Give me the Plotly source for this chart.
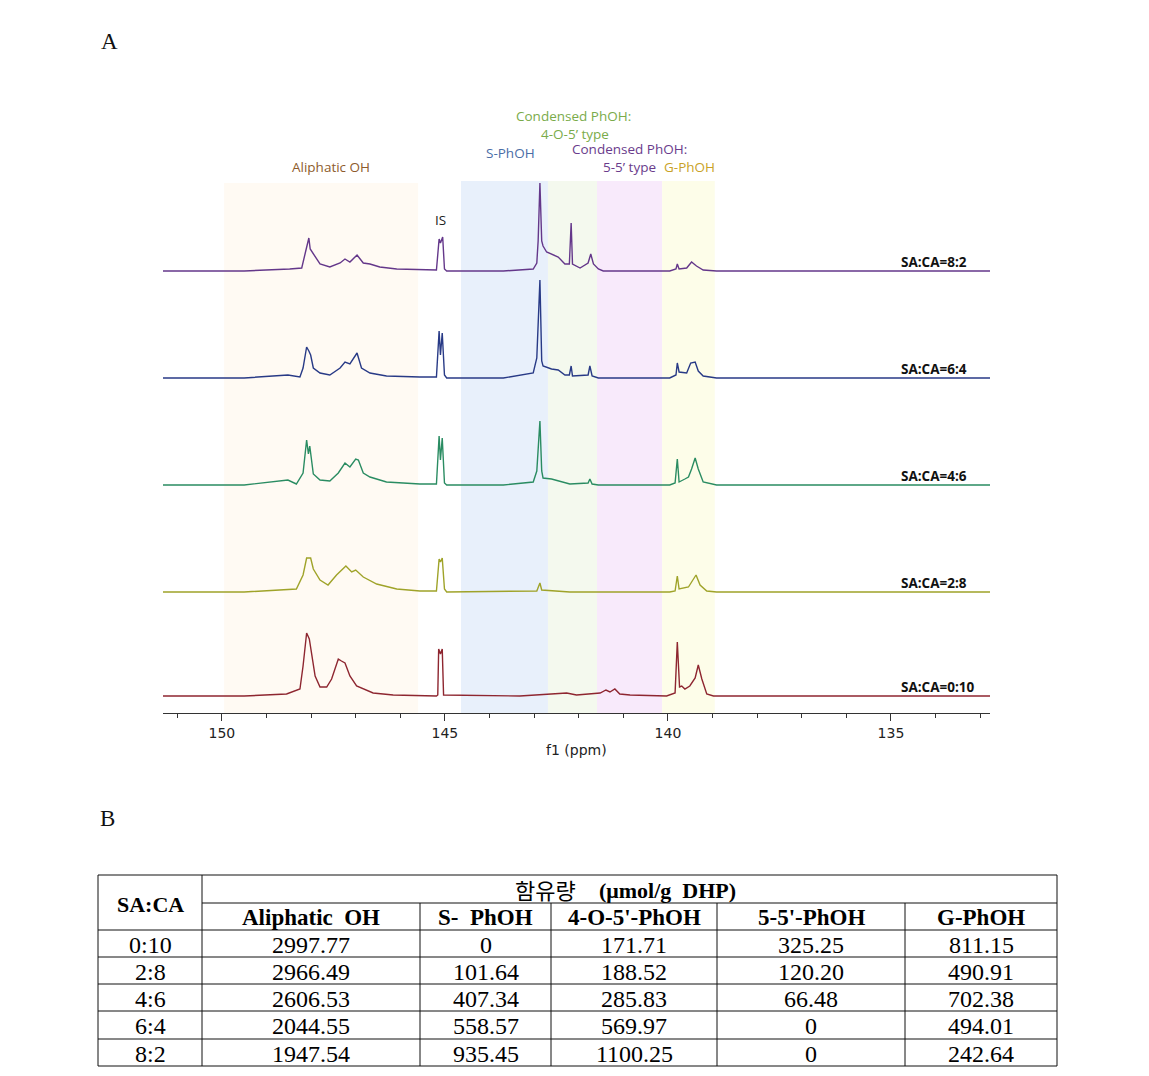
import plotly.graph_objects as go

W, H = 1149, 1076

# ---------------- Spectra data (ppm, intensity above own baseline) ----------------
names = ["SA:CA=8:2", "SA:CA=6:4", "SA:CA=4:6", "SA:CA=2:8", "SA:CA=0:10"]

ppm_82 = [151.32, 149.5, 148.48, 148.21, 148.12, 148.05, 148.02, 147.95, 147.80, 147.58,
          147.35, 147.24, 147.13, 146.97, 146.83, 146.68, 146.46, 146.08, 145.56, 145.19,
          145.13, 145.10, 145.05, 145.01, 144.96, 143.69, 143.02, 142.94, 142.91, 142.87,
          142.83, 142.80, 142.72, 142.61, 142.46, 142.31, 142.21, 142.17, 142.14, 141.97,
          141.79, 141.73, 141.67, 141.56, 141.45, 139.96, 139.82, 139.79, 139.75, 139.58,
          139.47, 139.36, 139.21, 138.91, 132.78]
int_82 = [0, 0, 2, 3, 20, 33, 22, 17, 7, 4,
          8, 12, 9, 16, 8, 7, 4, 2, 1, 1,
          32, 28, 34, 2, 0, 0, 2, 8, 30, 88,
          30, 25, 19, 17, 14, 7, 7, 48, 7, 3,
          8, 17, 7, 2, 0, 0, 2, 7, 2, 3,
          9, 5, 1, 0, 0]

ppm_64 = [151.32, 149.5, 148.52, 148.25, 148.18, 148.10, 148.05, 148.01, 147.95, 147.80,
          147.58, 147.35, 147.24, 147.13, 146.97, 146.87, 146.68, 146.31, 145.56, 145.19,
          145.13, 145.10, 145.06, 145.01, 144.96, 143.69, 143.02, 142.94, 142.87, 142.83,
          142.80, 142.61, 142.46, 142.31, 142.21, 142.17, 142.14, 141.79, 141.75, 141.70,
          141.56, 139.96, 139.82, 139.79, 139.75, 139.58, 139.49, 139.39, 139.32, 139.21,
          138.91, 132.78]
int_64 = [0, 0, 3, 1, 10, 31, 27, 23, 10, 5,
          3, 10, 16, 14, 25, 10, 5, 2, 1, 1,
          47, 23, 45, 3, 0, 0, 5, 20, 98, 17,
          12, 9, 8, 3, 3, 12, 2, 3, 12, 2,
          0, 0, 3, 15, 6, 5, 15, 16, 7, 2,
          0, 0]

ppm_46 = [151.32, 149.5, 148.52, 148.33, 148.18, 148.10, 148.06, 148.03, 147.95, 147.80,
          147.58, 147.39, 147.24, 147.13, 147.00, 146.94, 146.83, 146.68, 146.31, 145.56,
          145.19, 145.13, 145.10, 145.06, 145.01, 144.96, 143.69, 143.02, 142.94, 142.87,
          142.83, 142.80, 142.61, 142.42, 142.20, 141.79, 141.75, 141.70, 141.56, 139.96,
          139.84, 139.79, 139.75, 139.62, 139.54, 139.47, 139.39, 139.32, 139.21, 138.91,
          132.78]
int_46 = [0, 0, 5, 1, 12, 45, 31, 39, 11, 5,
          4, 12, 22, 18, 26, 25, 12, 8, 3, 1,
          1, 49, 25, 47, 2, 0, 0, 3, 14, 64,
          14, 7, 6, 4, 1, 2, 6, 1, 0, 0,
          2, 26, 3, 6, 8, 16, 27, 16, 3, 0,
          0]

ppm_28 = [151.32, 149.5, 148.33, 148.18, 148.10, 148.01, 147.95, 147.80, 147.62, 147.43,
          147.22, 147.09, 147.00, 146.83, 146.53, 146.08, 145.56, 145.19, 145.13, 145.10,
          145.06, 145.01, 144.96, 142.94, 142.87, 142.83, 142.20, 139.96, 139.84, 139.79,
          139.75, 139.54, 139.37, 139.28, 139.13, 138.91, 132.78]
int_28 = [0, 0, 3, 17, 34, 34, 23, 12, 7, 17,
          26, 20, 22, 15, 8, 3, 1, 1, 33, 30,
          34, 3, 0, 1, 9, 2, 0, 0, 1, 16,
          3, 5, 17, 7, 1, 0, 0]

ppm_010 = [151.32, 149.5, 148.55, 148.25, 148.18, 148.10, 148.04, 147.99, 147.91, 147.80,
           147.65, 147.54, 147.39, 147.32, 147.24, 147.13, 146.98, 146.61, 146.16, 145.19,
           145.16, 145.14, 145.10, 145.06, 145.03, 143.32, 142.27, 142.05, 141.52, 141.39,
           141.30, 141.19, 141.08, 140.85, 140.03, 139.84, 139.79, 139.74, 139.69, 139.62,
           139.51, 139.39, 139.32, 139.24, 139.13, 138.98, 132.78]
int_010 = [0, 0, 2, 7, 30, 63, 57, 43, 20, 9,
           9, 17, 37, 35, 33, 20, 10, 3, 1, 0,
           1, 47, 42, 47, 1, 0, 3, 1, 3, 6,
           4, 7, 2, 1, 0, 3, 54, 9, 10, 7,
           10, 18, 31, 17, 2, 0, 0]

spectra_ppm = [ppm_82, ppm_64, ppm_46, ppm_28, ppm_010]
spectra_int = [int_82, int_64, int_46, int_28, int_010]

# ---------------- Assignment regions (ppm) ----------------
region_names = ["Aliphatic OH", "S-PhOH", "4-O-5' type", "5-5' type", "G-PhOH"]
region_lo = [145.60, 142.69, 141.59, 140.13, 138.95]
region_hi = [149.95, 144.64, 142.69, 141.59, 140.13]

# ---------------- Table data ----------------
ratios = ["0:10", "2:8", "4:6", "6:4", "8:2"]
aliphatic_oh = [2997.77, 2966.49, 2606.53, 2044.55, 1947.54]
s_phoh = [0, 101.64, 407.34, 558.57, 935.45]
c_4o5_phoh = [171.71, 188.52, 285.83, 569.97, 1100.25]
c_55_phoh = [325.25, 120.20, 66.48, 0, 0]
g_phoh = [811.15, 490.91, 702.38, 494.01, 242.64]
col_headers = ["Aliphatic\u00a0 OH", "S-\u00a0 PhOH", "4-O-5'-PhOH", "5-5'-PhOH", "G-PhOH"]

# ---------------- styles / layout helpers ----------------
line_colors = ["#64378a", "#283a86", "#2a8c62", "#9fa329", "#8e2630"]
region_fill = ["#fffaf3", "#e8f0fb", "#f4f9ee", "#f8eafb", "#fdfde9"]
stack_offset = [442, 335, 228, 121, 17]   # baseline heights (px above axis)


def px(x):
    return x / W


def py(y):
    return 1 - y / H


fig = go.Figure()

for nm, xs, ys, off, col in zip(names, spectra_ppm, spectra_int, stack_offset, line_colors):
    fig.add_trace(go.Scatter(
        x=xs, y=[off + v for v in ys], mode="lines", name=nm,
        line=dict(color=col, width=1.4), hoverinfo="skip", showlegend=False))

shapes = []
tops = [530, 532, 532, 532, 532]
for lo, hi, fc, tp in zip(region_lo, region_hi, region_fill, tops):
    shapes.append(dict(type="rect", xref="x", yref="y", x0=hi, x1=lo, y0=0, y1=tp,
                       fillcolor=fc, line=dict(width=0), layer="below"))

annotations = []
# spectrum labels
for nm, off in zip(names, stack_offset):
    annotations.append(dict(text="<b>" + nm + "</b>", xref="paper", yref="y",
                            x=px(899), y=off + 9, xanchor="left", yanchor="middle",
                            showarrow=False, font=dict(family="Open Sans", size=13.5, color="#111")))

lab_font = "Open Sans"
region_labels = [
    ("Aliphatic OH", 331, 167, "#8d5b2c"),
    ("IS", 440, 220, "#222222"),
    ("S-PhOH", 510, 153, "#4a6da6"),
    ("Condensed PhOH:", 573, 116, "#7aab4a"),
    ("4-O-5\u2019 type", 575, 134, "#7aab4a"),
    ("Condensed PhOH:", 629, 149, "#6a3c8c"),
    ("5-5\u2019 type", 629, 167, "#6a3c8c"),
    ("G-PhOH", 689, 167, "#c9a227"),
]
for t, x, y, c in region_labels:
    annotations.append(dict(text=t, xref="paper", yref="paper", x=px(x), y=py(y),
                            xanchor="center", yanchor="middle", showarrow=False,
                            font=dict(family=lab_font, size=13.5, color=c)))

annotations.append(dict(text="f1 (ppm)", xref="paper", yref="paper", x=px(576), y=py(750),
                        xanchor="center", yanchor="middle", showarrow=False,
                        font=dict(family="DejaVu Sans", size=14, color="#222")))

# panel letters
for t, x, y in [("A", 109, 42), ("B", 107, 818)]:
    annotations.append(dict(text=t, xref="paper", yref="paper", x=px(x), y=py(y),
                            xanchor="center", yanchor="middle", showarrow=False,
                            font=dict(family="Liberation Serif", size=23, color="#111")))

# ---------------- table ----------------
tl, tr, ttop, tbot = 98, 1057, 875, 1066
col_x = [98, 202, 420, 551, 717, 905, 1057]
row_y = [930, 957, 984, 1011, 1039, 1066]
tline = dict(color="#111", width=1)

shapes.append(dict(type="rect", xref="paper", yref="paper", x0=px(tl), x1=px(tr),
                   y0=py(tbot), y1=py(ttop), line=tline))
shapes.append(dict(type="line", xref="paper", yref="paper", x0=px(202), x1=px(tr),
                   y0=py(903), y1=py(903), line=tline))
for yy in row_y[:-1]:
    shapes.append(dict(type="line", xref="paper", yref="paper", x0=px(tl), x1=px(tr),
                       y0=py(yy), y1=py(yy), line=tline))
shapes.append(dict(type="line", xref="paper", yref="paper", x0=px(202), x1=px(202),
                   y0=py(ttop), y1=py(tbot), line=tline))
for xx in col_x[2:-1]:
    shapes.append(dict(type="line", xref="paper", yref="paper", x0=px(xx), x1=px(xx),
                       y0=py(903), y1=py(tbot), line=tline))

serif = "Liberation Serif"
annotations.append(dict(text="<b>SA:CA</b>", xref="paper", yref="paper", x=px(150), y=py(904),
                        xanchor="center", yanchor="middle", showarrow=False,
                        font=dict(family=serif, size=22, color="#000")))
annotations.append(dict(text="함유량", xref="paper", yref="paper", x=px(545), y=py(889),
                        xanchor="center", yanchor="middle", showarrow=False,
                        font=dict(family="Noto Sans CJK KR", size=22, color="#000")))
annotations.append(dict(text="<b>(μmol/g\u00a0 DHP)</b>", xref="paper", yref="paper", x=px(597), y=py(890),
                        xanchor="left", yanchor="middle", showarrow=False,
                        font=dict(family=serif, size=22, color="#000")))

centers = [(col_x[i] + col_x[i + 1]) / 2 for i in range(len(col_x) - 1)]
for h, cx in zip(col_headers, centers[1:]):
    annotations.append(dict(text="<b>" + h + "</b>", xref="paper", yref="paper", x=px(cx), y=py(917),
                            xanchor="center", yanchor="middle", showarrow=False,
                            font=dict(family=serif, size=23, color="#000")))


def fmt(v):
    return "0" if v == 0 else f"{v:.2f}"


columns = [ratios, [fmt(v) for v in aliphatic_oh], [fmt(v) for v in s_phoh],
           [fmt(v) for v in c_4o5_phoh], [fmt(v) for v in c_55_phoh], [fmt(v) for v in g_phoh]]
for ci, col in enumerate(columns):
    for ri, val in enumerate(col):
        cy = (row_y[ri] + row_y[ri + 1]) / 2 + 1
        annotations.append(dict(text=val, xref="paper", yref="paper", x=px(centers[ci]), y=py(cy),
                                xanchor="center", yanchor="middle", showarrow=False,
                                font=dict(family=serif, size=24, color="#000")))

fig.update_layout(
    width=W, height=H, margin=dict(l=0, r=0, t=0, b=0),
    paper_bgcolor="white", plot_bgcolor="rgba(0,0,0,0)",
    shapes=shapes, annotations=annotations, showlegend=False,
    xaxis=dict(domain=[px(163), px(990)], range=[151.32, 132.78], autorange=False,
               showline=True, linecolor="#333", linewidth=1.2, ticks="outside",
               tick0=0, dtick=5, ticklen=7, tickcolor="#333", tickwidth=1,
               minor=dict(ticks="outside", dtick=1, tick0=0, ticklen=4, tickcolor="#333"),
               showgrid=False, zeroline=False,
               tickfont=dict(family="DejaVu Sans", size=14, color="#222"),
               anchor="y"),
    yaxis=dict(domain=[py(713), py(100)], range=[0, 613], autorange=False, visible=False,
               showgrid=False, zeroline=False),
)

fig.write_html("out.html")
